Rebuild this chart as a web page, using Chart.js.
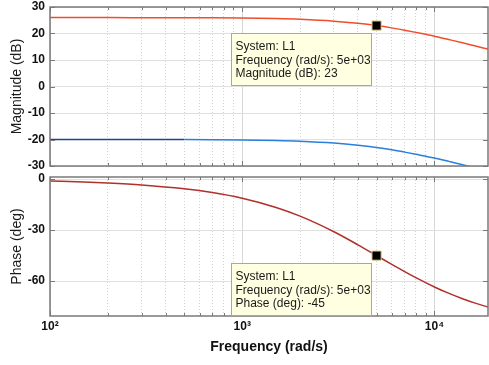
<!DOCTYPE html>
<html>
<head>
<meta charset="utf-8">
<script src="https://cdn.jsdelivr.net/npm/chart.js@4.4.1/dist/chart.umd.min.js"></script>
<style>
  html, body { margin: 0; padding: 0; background: #fff; overflow: hidden; }
  #wrap { position: relative; width: 489px; height: 365px; }
  canvas { position: absolute; left: 0; }
</style>
</head>
<body>
<div id="wrap">
  <canvas id="mag" width="489" height="170" style="top:0"></canvas>
  <canvas id="phase" width="489" height="195" style="top:170px"></canvas>
</div>
<script>
// frequenze (rad/s)
const freq = [100, 150, 200, 300, 500, 700, 1000, 1500, 2000, 3000, 4000, 5000,
  6000, 7000, 8000, 10000, 12000, 14000, 16000, 19000];

// modulo (dB)
const magL1 = [26.0, 26.0, 26.0, 25.98, 25.96, 25.92, 25.83, 25.62, 25.35, 24.66, 23.85, 23.0,
  22.12, 21.24, 20.42, 19.0, 17.65, 16.49, 15.45, 14.1];
const magL2 = [-20.0, -20.0, -20.0, -20.02, -20.04, -20.08, -20.17, -20.38, -20.65, -21.34, -22.15, -23.0,
  -23.88, -24.76, -25.58, -27.0, -28.35, -29.51, -30.55, -31.9];

// fase (deg)
const phaseL1 = [-1.15, -1.72, -2.29, -3.43, -5.71, -7.97, -11.31, -16.7, -21.8, -30.96, -38.66, -45,
  -50.19, -54.46, -57.99, -63.43, -67.38, -70.35, -72.65, -75.26];

// data tip
const tipFreq = 5000;
const tipMag = 23;
const tipPhase = -45;
const tipMagLines = ["System: L1", "Frequency (rad/s): 5e+03", "Magnitude (dB): 23"];
const tipPhaseLines = ["System: L1", "Frequency (rad/s): 5e+03", "Phase (deg): -45"];

// tick
const gridFreq = [100, 200, 300, 400, 500, 600, 700, 800, 900,
  1000, 2000, 3000, 4000, 5000, 6000, 7000, 8000, 9000, 10000];
const decadeLabels = { 100: "10\u00b2", 1000: "10\u00b3", 10000: "10\u2074" };
const magTicks = [30, 20, 10, 0, -10, -20, -30];
const phaseTicks = [0, -30, -60];

const FONT = '"Liberation Sans", Arial, sans-serif';

function isDecade(v) {
  const l = Math.log10(v);
  return Math.abs(l - Math.round(l)) < 1e-6;
}

// niente padding automatico delle etichette: lo decide layout.padding
function fitY(s) {
  s.width = 50;
  s.paddingTop = 0;
  s.paddingBottom = 0;
}
function fitX(h) {
  return (s) => {
    s.height = h;
    s.paddingLeft = 0;
    s.paddingRight = 0;
  };
}

// griglia x: decadi continue, altre punteggiate
const xGrid = {
  color: (c) => (c.tick && isDecade(c.tick.value) ? "#d6d6d6" : "#d4d4d4"),
  drawTicks: false,
};
const xBorder = {
  display: false,
  dash: (c) => (c.tick && !isDecade(c.tick.value) ? [1, 2] : []),
};

// cornice + tacche interne
const frame = {
  id: "frame",
  afterDatasetsDraw(chart) {
    const { ctx, chartArea: a, scales } = chart;
    ctx.save();
    ctx.strokeStyle = "#7a7a7a";
    ctx.lineWidth = 1;
    ctx.beginPath();
    scales.x.ticks.forEach((t) => {
      const px = Math.round(scales.x.getPixelForValue(t.value)) + 0.5;
      const len = isDecade(t.value) ? 5 : 3;
      ctx.moveTo(px, a.top); ctx.lineTo(px, a.top + len);
      ctx.moveTo(px, a.bottom); ctx.lineTo(px, a.bottom - len);
    });
    scales.y.ticks.forEach((t) => {
      const py = Math.round(scales.y.getPixelForValue(t.value)) + 0.5;
      ctx.moveTo(a.left, py); ctx.lineTo(a.left + 5, py);
      ctx.moveTo(a.right, py); ctx.lineTo(a.right - 5, py);
    });
    ctx.stroke();
    ctx.lineWidth = 1.5;
    ctx.strokeRect(a.left, a.top, a.right - a.left, a.bottom - a.top);
    ctx.restore();
  },
};

// riquadro giallo del data tip
const tip = {
  id: "tip",
  afterDraw(chart, args, opts) {
    const { ctx, scales } = chart;
    const px = scales.x.getPixelForValue(opts.fx);
    const py = scales.y.getPixelForValue(opts.fy);
    const bx = Math.round(px - 146) + 0.5;
    const by = Math.round(py + 7) + 0.5;
    ctx.save();
    ctx.fillStyle = "#ffffe1";
    ctx.strokeStyle = "#a8a8a0";
    ctx.lineWidth = 1;
    ctx.fillRect(bx, by, 140, 52);
    ctx.strokeRect(bx, by, 140, 52);
    ctx.font = "12px " + FONT;
    ctx.fillStyle = "#1a1a1a";
    ctx.textBaseline = "middle";
    opts.lines.forEach((t, i) => ctx.fillText(t, bx + 4, by + 13 + i * 13.7));
    ctx.restore();
  },
};

function serie(ys) {
  return freq.map((f, i) => ({ x: f, y: ys[i] }));
}

// quadratino nero sopra la curva
function marker(fx, fy) {
  return {
    data: [{ x: fx, y: fy }],
    order: -1,
    showLine: false,
    pointStyle: "rect",
    pointRadius: 6.5,
    backgroundColor: "#000",
    borderColor: "#d9d08a",
    borderWidth: 1,
  };
}

const yTickFont = { family: FONT, size: 12, weight: "bold" };
const yTitleFont = { family: FONT, size: 14 };

// Grafico modulo
new Chart(document.getElementById("mag"), {
  type: "line",
  data: {
    datasets: [
      {
        data: serie(magL1),
        borderColor: "#f04e2a",
        borderWidth: 1.5,
        pointRadius: 0,
        cubicInterpolationMode: "monotone",
      },
      {
        data: serie(magL2),
        borderColor: "#2b7fd9",
        borderWidth: 1.5,
        pointRadius: 0,
        cubicInterpolationMode: "monotone",
        segment: { borderColor: (c) => (c.p0.parsed.x < 450 ? "#1f428f" : "#2b7fd9") },
      },
      marker(tipFreq, tipMag),
    ],
  },
  options: {
    responsive: false,
    animation: false,
    layout: { autoPadding: false, padding: { top: 7, right: 1, bottom: 4, left: 0 } },
    plugins: {
      legend: { display: false },
      tooltip: { enabled: false },
      tip: { fx: tipFreq, fy: tipMag, lines: tipMagLines },
    },
    scales: {
      x: {
        type: "logarithmic",
        min: 100,
        max: 19000,
        afterBuildTicks: (s) => { s.ticks = gridFreq.map((v) => ({ value: v })); },
        afterFit: fitX(0),
        ticks: { display: false },
        grid: xGrid,
        border: xBorder,
      },
      y: {
        min: -30,
        max: 30,
        afterBuildTicks: (s) => { s.ticks = magTicks.map((v) => ({ value: v })); },
        afterFit: fitY,
        ticks: { autoSkip: false, padding: 5, font: yTickFont, color: "#111" },
        grid: { color: "#e0e0e0", drawTicks: false },
        border: { display: false },
        title: {
          display: true,
          text: "Magnitude (dB)",
          font: yTitleFont,
          color: "#1a1a1a",
          padding: { top: 9, bottom: 0 },
        },
      },
    },
  },
  plugins: [frame, tip],
});

// Grafico fase
new Chart(document.getElementById("phase"), {
  type: "line",
  data: {
    datasets: [
      {
        data: serie(phaseL1),
        borderColor: "#b0302c",
        borderWidth: 1.5,
        pointRadius: 0,
        cubicInterpolationMode: "monotone",
      },
      marker(tipFreq, tipPhase),
    ],
  },
  options: {
    responsive: false,
    animation: false,
    layout: { autoPadding: false, padding: { top: 7, right: 1, bottom: 0, left: 0 } },
    plugins: {
      legend: { display: false },
      tooltip: { enabled: false },
      tip: { fx: tipFreq, fy: tipPhase, lines: tipPhaseLines },
    },
    scales: {
      x: {
        type: "logarithmic",
        min: 100,
        max: 19000,
        afterBuildTicks: (s) => { s.ticks = gridFreq.map((v) => ({ value: v })); },
        afterFit: fitX(49),
        ticks: {
          autoSkip: false,
          maxRotation: 0,
          padding: 3,
          font: { family: FONT, size: 12, weight: "bold" },
          color: "#111",
          callback: (v) => decadeLabels[v] || "",
        },
        grid: xGrid,
        border: xBorder,
        title: {
          display: true,
          text: "Frequency (rad/s)",
          font: { family: FONT, size: 14, weight: "bold" },
          color: "#111",
          padding: { top: 0, bottom: 9 },
        },
      },
      y: {
        min: -80.5,
        max: 1.2,
        afterBuildTicks: (s) => { s.ticks = phaseTicks.map((v) => ({ value: v })); },
        afterFit: fitY,
        ticks: { autoSkip: false, padding: 5, font: yTickFont, color: "#111" },
        grid: { color: "#e0e0e0", drawTicks: false },
        border: { display: false },
        title: {
          display: true,
          text: "Phase (deg)",
          font: yTitleFont,
          color: "#1a1a1a",
          padding: { top: 9, bottom: 0 },
        },
      },
    },
  },
  plugins: [frame, tip],
});
</script>
</body>
</html>
